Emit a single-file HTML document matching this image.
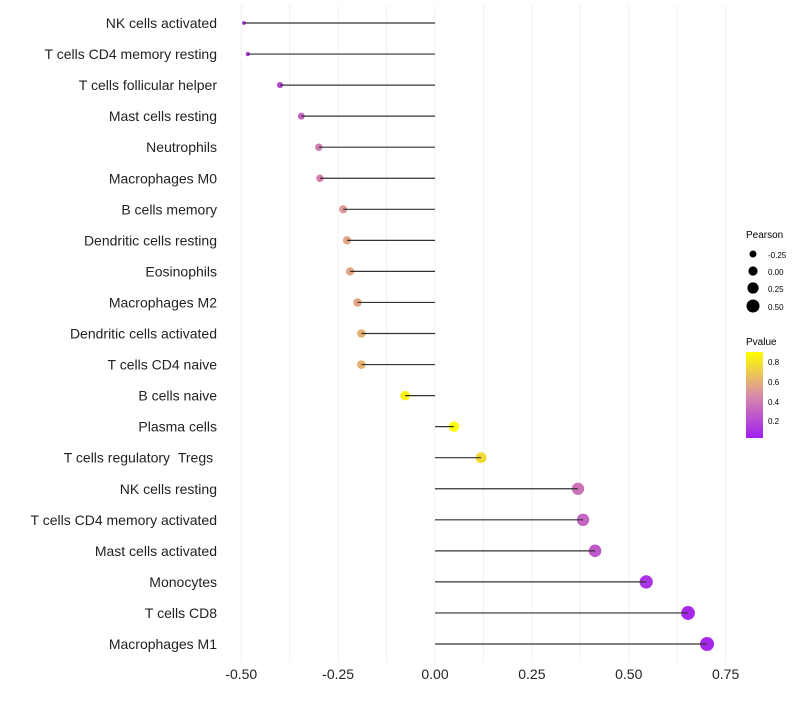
<!DOCTYPE html>
<html><head><meta charset="utf-8"><style>
body{margin:0;background:#fff;font-family:"Liberation Sans",sans-serif}
svg text{font-family:"Liberation Sans",sans-serif}
</style></head><body>
<svg id="c" width="800" height="700">
<defs><linearGradient id="pg" x1="0" y1="1" x2="0" y2="0">
<stop offset="0" stop-color="#A020F0"/><stop offset="0.5" stop-color="#D98CA8"/><stop offset="1" stop-color="#FFFF00"/></linearGradient></defs>
<g id="grid"></g><g id="marks"></g><g id="labels"></g>
<g>
<text x="746" y="238" font-size="10" fill="#000">Pearson</text>
<circle cx="753" cy="254" r="3.5" fill="#000"/><text x="768" y="258" font-size="8">-0.25</text>
<circle cx="753" cy="271" r="4.6" fill="#000"/><text x="768" y="275" font-size="8">0.00</text>
<circle cx="753" cy="288" r="5.6" fill="#000"/><text x="768" y="292" font-size="8">0.25</text>
<circle cx="753" cy="306" r="6.5" fill="#000"/><text x="768" y="310" font-size="8">0.50</text>
</g>
<g>
<text x="746" y="345" font-size="10" fill="#000">Pvalue</text>
<rect x="746" y="352" width="17" height="86" fill="url(#pg)"/>
<text x="768" y="365" font-size="8">0.8</text>
<text x="768" y="385" font-size="8">0.6</text>
<text x="768" y="405" font-size="8">0.4</text>
<text x="768" y="424" font-size="8">0.2</text>
</g>
</svg>
<script>
const cells=["NK cells activated","T cells CD4 memory resting","T cells follicular helper","Mast cells resting","Neutrophils","Macrophages M0","B cells memory","Dendritic cells resting","Eosinophils","Macrophages M2","Dendritic cells activated","T cells CD4 naive","B cells naive","Plasma cells","T cells regulatory \u00a0Tregs\u00a0","NK cells resting","T cells CD4 memory activated","Mast cells activated","Monocytes","T cells CD8","Macrophages M1"];
const pearson=[-0.493,-0.483,-0.40,-0.345,-0.30,-0.297,-0.237,-0.227,-0.219,-0.20,-0.19,-0.19,-0.077,0.049,0.119,0.369,0.382,0.413,0.545,0.653,0.702];
const pvalue=[0.08,0.12,0.18,0.3,0.4,0.4,0.5,0.55,0.55,0.55,0.6,0.6,0.85,0.88,0.75,0.35,0.3,0.25,0.1,0.05,0.05];
const xticks=[-0.5,-0.25,0,0.25,0.5,0.75];
const xticklabels=["-0.50","-0.25","0.00","0.25","0.50","0.75"];
const NS="http://www.w3.org/2000/svg";
const x=v=>435+v*387.5;
const y=i=>23+i*31.05;
function mk(t,a,p){const e=document.createElementNS(NS,t);for(const k in a)e.setAttribute(k,a[k]);p.appendChild(e);return e;}
function lerp(a,b,t){return a.map((v,i)=>Math.round(v+(b[i]-v)*t));}
function col(p){let t=(p-0.02)/(0.89-0.02);t=Math.max(0,Math.min(1,t));const c0=[160,32,240],c1=[217,140,168],c2=[255,255,0];const c=t<0.5?lerp(c0,c1,t*2):lerp(c1,c2,(t-0.5)*2);return `rgb(${c})`;}
const rad=v=>1.5+5.5*Math.sqrt(Math.max(0,(v+0.5)/1.2));
const G=document.getElementById('grid'),M=document.getElementById('marks'),L=document.getElementById('labels');
for(let v=-0.5;v<=0.751;v+=0.125){const l=mk('line',{x1:x(v),x2:x(v),y1:5,y2:662,stroke:'#f0f0f0','stroke-width':1},G);

}
xticks.forEach((v,i)=>{const t=mk('text',{x:x(v),y:679,'text-anchor':'middle','font-size':14,fill:'#222'},L);t.textContent=xticklabels[i];

});
cells.forEach((c,i)=>{
const t=mk('text',{x:217,y:y(i)+5,'text-anchor':'end','font-size':14,fill:'#222'},L);t.textContent=c;


const ci=mk('circle',{cx:x(pearson[i]),cy:y(i),r:rad(pearson[i]),fill:col(pvalue[i])},M);


const s=mk('line',{x1:x(0),x2:x(pearson[i]),y1:y(i),y2:y(i),stroke:'#333','stroke-width':1.2},M);


});
</script>
</body></html>
